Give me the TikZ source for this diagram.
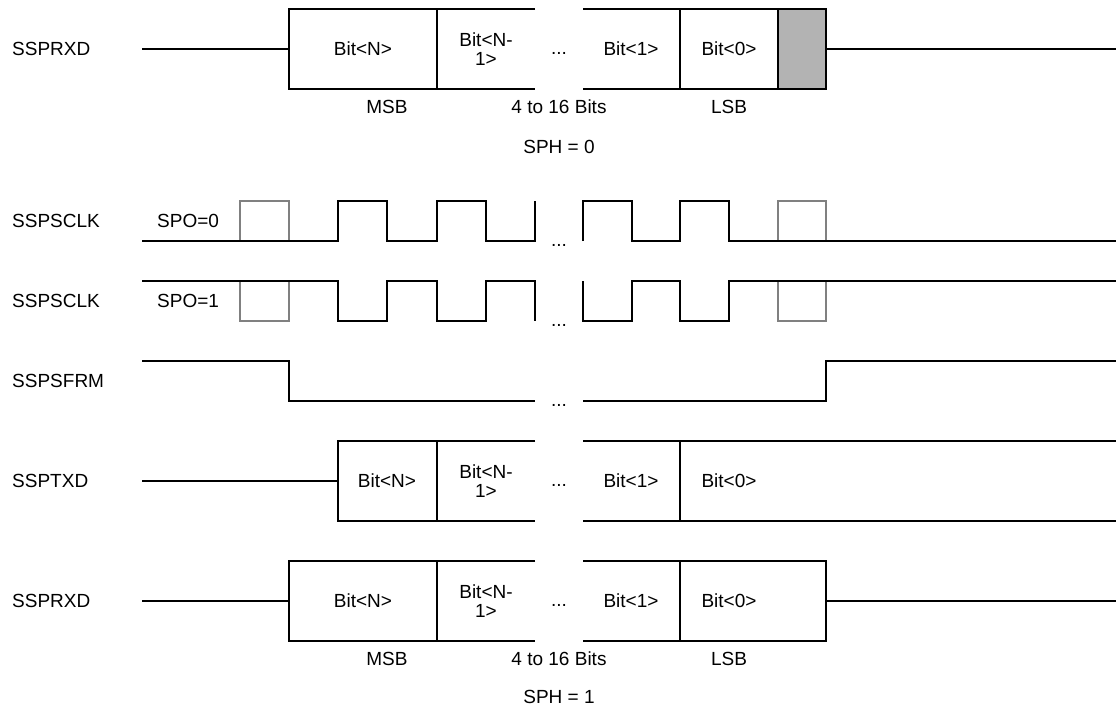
\documentclass[tikz,border=0pt]{standalone}
\usepackage{fontspec}
\setmainfont{Liberation Sans}
\definecolor{wire}{HTML}{000000}
\definecolor{ghostline}{HTML}{808080}
\definecolor{ghostfill}{HTML}{B3B3B3}

\begin{document}
\begin{tikzpicture}[x=1pt, y=-1pt, font=\fontsize{19}{19}\selectfont,
  sig/.style={line width=2pt, draw=wire},
  ghost/.style={line width=2pt, draw=ghostline},
  lbl/.style={anchor=west, inner sep=0pt},
  bit/.style={align=center, inner sep=0pt},
  gap/.style={anchor=base, inner sep=0pt}]
\useasboundingbox (0,0) rectangle (1116,710);

% signal names
\node[lbl] (rxdA) at (12,49) {SSPRXD};
\node[lbl] (clkA) at (12,221) {SSPSCLK};
\node[lbl] (clkB) at (12,301) {SSPSCLK};
\node[lbl] (frm) at (12,381) {SSPSFRM};
\node[lbl] (txd) at (12,481) {SSPTXD};
\node[lbl] (rxdB) at (12,601) {SSPRXD};
\node[lbl] (spoA) at (157,221) {SPO=0};
\node[lbl] (spoB) at (157,301) {SPO=1};

% SSPRXD, SPH = 0
\draw[sig] (142,49) -- (289,49);
\draw[sig] (535,9) -- (289,9) -- (289,89) -- (535,89);
\draw[sig] (437,9) -- (437,89);
\draw[sig] (583,9) -- (778,9);
\draw[sig] (583,89) -- (778,89);
\draw[sig] (680,9) -- (680,89);
\filldraw[sig, fill=ghostfill] (778,9) rectangle (826,89);
\draw[sig] (826,49) -- (1116,49);
\node[bit] (bitNA) at (363,49) {Bit<N>};
\node[bit] (bitMA) at (486,49) {Bit<N-\\1>};
\node[gap] (dotsA) at (559,54) {...};
\node[bit] (bit1A) at (631,49) {Bit<1>};
\node[bit] (bit0A) at (729,49) {Bit<0>};
\node[bit] (msbA) at (387,107) {MSB};
\node[bit] (lenA) at (559,107) {4 to 16 Bits};
\node[bit] (lsbA) at (729,107) {LSB};
\node[bit] (sphA) at (559,147) {SPH = 0};

% SSPSCLK, SPO=0
\draw[ghost] (240,241) -- (240,201) -- (289,201) -- (289,241);
\draw[ghost] (778,241) -- (778,201) -- (826,201) -- (826,241);
\draw[sig] (142,241) -- (338,241) -- (338,201) -- (387,201) -- (387,241) -- (437,241) -- (437,201) -- (486,201) -- (486,241) -- (535,241) -- (535,201);
\draw[sig] (583,241) -- (583,201) -- (632,201) -- (632,241) -- (680,241) -- (680,201) -- (729,201) -- (729,241) -- (1116,241);
\node[gap] (dotsB) at (559,246) {...};

% SSPSCLK, SPO=1
\draw[ghost] (240,281) -- (240,321) -- (289,321) -- (289,281);
\draw[ghost] (778,281) -- (778,321) -- (826,321) -- (826,281);
\draw[sig] (142,281) -- (338,281) -- (338,321) -- (387,321) -- (387,281) -- (437,281) -- (437,321) -- (486,321) -- (486,281) -- (535,281) -- (535,321);
\draw[sig] (583,281) -- (583,321) -- (632,321) -- (632,281) -- (680,281) -- (680,321) -- (729,321) -- (729,281) -- (1116,281);
\node[gap] (dotsC) at (559,326) {...};

% SSPSFRM
\draw[sig] (142,361) -- (289,361) -- (289,401) -- (535,401);
\draw[sig] (583,401) -- (826,401) -- (826,361) -- (1116,361);
\node[gap] (dotsD) at (559,406) {...};

% SSPTXD
\draw[sig] (142,481) -- (338,481);
\draw[sig] (535,441) -- (338,441) -- (338,521) -- (535,521);
\draw[sig] (437,441) -- (437,521);
\draw[sig] (583,441) -- (1116,441);
\draw[sig] (583,521) -- (1116,521);
\draw[sig] (680,441) -- (680,521);
\node[bit] (bitNT) at (387,481) {Bit<N>};
\node[bit] (bitMT) at (486,481) {Bit<N-\\1>};
\node[gap] (dotsE) at (559,486) {...};
\node[bit] (bit1T) at (631,481) {Bit<1>};
\node[bit] (bit0T) at (729,481) {Bit<0>};

% SSPRXD, SPH = 1
\draw[sig] (142,601) -- (289,601);
\draw[sig] (535,561) -- (289,561) -- (289,641) -- (535,641);
\draw[sig] (437,561) -- (437,641);
\draw[sig] (583,561) -- (826,561) -- (826,641) -- (583,641);
\draw[sig] (680,561) -- (680,641);
\draw[sig] (826,601) -- (1116,601);
\node[bit] (bitNB) at (363,601) {Bit<N>};
\node[bit] (bitMB) at (486,601) {Bit<N-\\1>};
\node[gap] (dotsF) at (559,606) {...};
\node[bit] (bit1B) at (631,601) {Bit<1>};
\node[bit] (bit0B) at (729,601) {Bit<0>};
\node[bit] (msbB) at (387,659) {MSB};
\node[bit] (lenB) at (559,659) {4 to 16 Bits};
\node[bit] (lsbB) at (729,659) {LSB};
\node[bit] (sphB) at (559,697) {SPH = 1};
\end{tikzpicture}
\end{document}
